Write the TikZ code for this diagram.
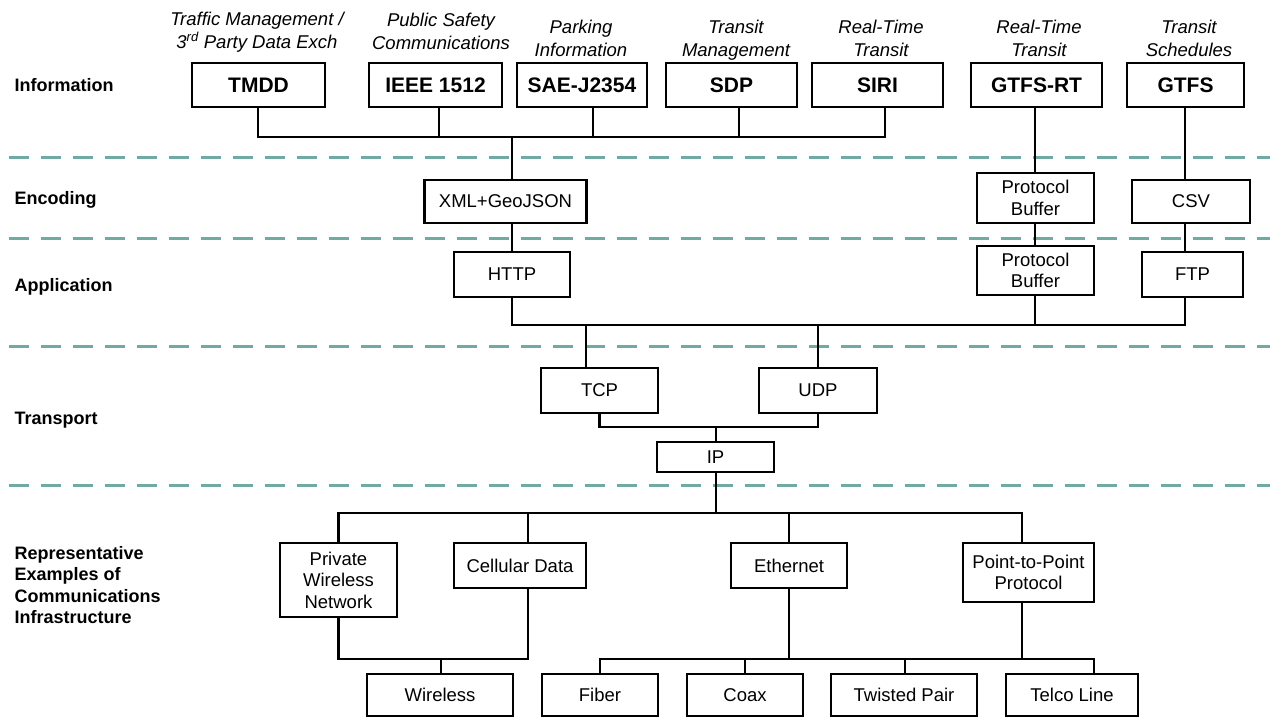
\documentclass[tikz,border=0pt]{standalone}
\usepackage{fontspec}
\setmainfont{Liberation Sans}
\definecolor{sepcol}{RGB}{112,170,164}
\begin{document}
\begin{tikzpicture}[x=1pt,y=-1pt,
  bx/.style={draw, line width=2.4pt, inner sep=0pt, align=center,
    font=\fontsize{18.5}{21.5}\selectfont},
  infobx/.style={bx, font=\bfseries\fontsize{21}{24}\selectfont, minimum height=44pt},
  title/.style={anchor=base, align=center, font=\itshape\fontsize{18.5}{22.5}\selectfont},
  layer/.style={anchor=west, align=left, font=\bfseries\fontsize{18}{21.5}\selectfont},
  wire/.style={line width=2.4pt},
  sep/.style={line width=3pt, draw=sepcol, dash pattern=on 20pt off 12pt}]
\useasboundingbox (0,0) rectangle (1270,718);

% layer separators
\foreach \yy in {157,238,346,485} \draw[sep] (9,\yy) -- (1270,\yy);

% layer names
\node[layer] (lInfo) at (11,85) {Information};
\node[layer] (lEnc) at (11,200) {Encoding};
\node[layer] (lApp) at (11,287) {Application};
\node[layer] (lTra) at (11,420) {Transport};
\node[layer] (lInf) at (11,585) {Representative\\Examples of\\Communications\\Infrastructure};

% information standards
\node[infobx, minimum width=133pt] (tmdd) at (258.5,85) {TMDD};
\node[infobx, minimum width=133pt] (ieee) at (435.5,85) {IEEE 1512};
\node[infobx, minimum width=130pt] (sae) at (582,85) {SAE-J2354};
\node[infobx, minimum width=131pt] (sdp) at (731.5,85) {SDP};
\node[infobx, minimum width=131pt] (siri) at (877.5,85) {SIRI};
\node[infobx, minimum width=131pt] (gtfsrt) at (1036.5,85) {GTFS-RT};
\node[infobx, minimum width=117pt] (gtfs) at (1185.5,85) {GTFS};

% standard descriptions (anchored on the baseline of the lower line)
\node[title] (tTmdd) at (257,48) {Traffic Management /\\3\textsuperscript{rd} Party Data Exch};
\node[title] (tIeee) at (441,49) {Public Safety\\Communications};
\node[title] (tSae) at (581,56) {Parking\\Information};
\node[title] (tSdp) at (736,56) {Transit\\Management};
\node[title] (tSiri) at (881,56) {Real-Time\\Transit};
\node[title] (tGtfsrt) at (1039,56) {Real-Time\\Transit};
\node[title] (tGtfs) at (1189,56) {Transit\\Schedules};

% encoding
\node[bx, minimum width=162pt, minimum height=43pt] (xml) at (505.5,201.5) {XML+GeoJSON};
\node[bx, minimum width=117pt, minimum height=50pt] (pb1) at (1035.5,198) {Protocol\\Buffer};
\node[bx, minimum width=118pt, minimum height=43pt] (csv) at (1191,201.5) {CSV};

% application
\node[bx, minimum width=116pt, minimum height=45pt] (http) at (512,274.5) {HTTP};
\node[bx, minimum width=117pt, minimum height=49pt] (pb2) at (1035.5,270.5) {Protocol\\Buffer};
\node[bx, minimum width=101pt, minimum height=45pt] (ftp) at (1192.5,274.5) {FTP};

% transport
\node[bx, minimum width=117pt, minimum height=45pt] (tcp) at (599.5,390.5) {TCP};
\node[bx, minimum width=118pt, minimum height=45pt] (udp) at (818,390.5) {UDP};
\node[bx, minimum width=117pt, minimum height=30pt] (ip) at (715.5,457) {IP};

% infrastructure
\node[bx, minimum width=117pt, minimum height=74pt] (pw) at (338.5,580) {Private\\Wireless\\Network};
\node[bx, minimum width=132pt, minimum height=45pt] (cell) at (520,565.5) {Cellular Data};
\node[bx, minimum width=116pt, minimum height=45pt] (eth) at (789,565.5) {Ethernet};
\node[bx, minimum width=131pt, minimum height=59pt] (ppp) at (1028.5,572.5) {Point-to-Point\\Protocol};

\node[bx, minimum width=146pt, minimum height=42pt] (wl) at (440,695) {Wireless};
\node[bx, minimum width=116pt, minimum height=42pt] (fib) at (600,695) {Fiber};
\node[bx, minimum width=116pt, minimum height=42pt] (coax) at (745,695) {Coax};
\node[bx, minimum width=146pt, minimum height=42pt] (tp) at (904,695) {Twisted Pair};
\node[bx, minimum width=132pt, minimum height=42pt] (telco) at (1072,695) {Telco Line};

% junction points
\coordinate (infoL) at (258,137);
\coordinate (infoJ) at (512,137);
\coordinate (infoR) at (885,137);
\coordinate (appL) at (512,325);
\coordinate (appR) at (1185,325);
\coordinate (tJ) at (716,427);
\coordinate (netL) at (338.5,513);
\coordinate (netR) at (1022,513);
\coordinate (wlJ) at (441,659);
\coordinate (wdR) at (1094,659);

% information bus
\draw[wire] (tmdd.south -| infoL) -- (infoL) -- (infoR) -- (siri.south -| infoR);
\draw[wire] ([xshift=3.5pt]ieee.south) -- ([xshift=3.5pt]ieee.south |- infoL);
\draw[wire] ([xshift=11pt]sae.south) -- ([xshift=11pt]sae.south |- infoL);
\draw[wire] ([xshift=7.5pt]sdp.south) -- ([xshift=7.5pt]sdp.south |- infoL);
\draw[wire] (infoJ) -- (xml.north -| infoJ);
\draw[wire] (xml.south -| infoJ) -- (http.north);

% GTFS chains
\draw[wire] ([xshift=-1.5pt]gtfsrt.south) -- ([xshift=-0.5pt]pb1.north);
\draw[wire] ([xshift=-0.5pt]pb1.south) -- ([xshift=-0.5pt]pb2.north);
\draw[wire] (gtfs.south -| appR) -- (csv.north -| appR);
\draw[wire] (csv.south -| appR) -- (ftp.north -| appR);

% application bus
\draw[wire] (http.south) -- (appL) -- (appR) -- (ftp.south -| appR);
\draw[wire] ([xshift=-0.5pt]pb2.south) -- ([xshift=-0.5pt]pb2.south |- appR);
\draw[wire] (tcp.north -| 586,0) -- (586,325);
\draw[wire] (udp.north) -- (udp.north |- appR);

% transport to IP
\draw[wire] (tcp.south -| 599.5,0) |- (tJ) -| (udp.south);
\draw[wire] (tJ) -- (ip.north -| tJ);

% network bus
\draw[wire] (ip.south -| tJ) -- (tJ |- netL);
\draw[wire] (pw.north) -- (netL) -- (netR) -- (ppp.north -| netR);
\draw[wire] (cell.north -| 528,0) -- (528,513);
\draw[wire] (eth.north) -- (eth.north |- netL);

% wireless branch
\draw[wire] (pw.south) |- (528,659) -- (cell.south -| 528,0);
\draw[wire] (wlJ) -- (wl.north -| wlJ);

% wired branch
\draw[wire] (fib.north) |- (wdR) -- (telco.north -| wdR);
\draw[wire] (coax.north) -- (coax.north |- wdR);
\draw[wire] ([xshift=1pt]tp.north) -- ([xshift=1pt]tp.north |- wdR);
\draw[wire] (eth.south) -- (eth.south |- wdR);
\draw[wire] (ppp.south -| netR) -- (netR |- wdR);
\end{tikzpicture}
\end{document}
